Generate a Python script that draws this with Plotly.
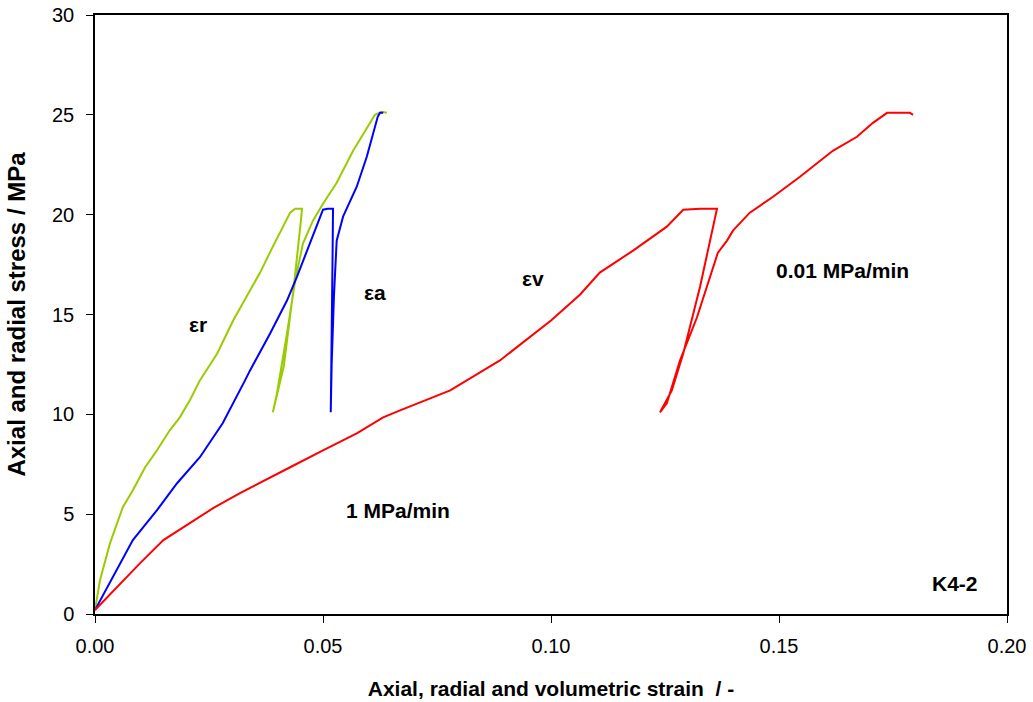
import plotly.graph_objects as go

# Radial strain (eps_r): loading, unloading at 20.3 MPa, reloading to 25 MPa
radial_strain = [0.0, 0.0011, 0.0033, 0.0061, 0.0083, 0.011, 0.0136, 0.0164, 0.0186, 0.0208,
                 0.023, 0.0268, 0.0303, 0.0333, 0.0362, 0.039, 0.0412, 0.0428, 0.0439, 0.0454,
                 0.0452, 0.0436, 0.0414, 0.0395, 0.039,
                 0.0399, 0.0421, 0.0439, 0.0456, 0.0478, 0.05, 0.053, 0.0566, 0.0588, 0.0614,
                 0.0629, 0.064]
radial_stress = [0.2, 1.7, 3.55, 5.35, 6.2, 7.35, 8.2, 9.2, 9.85, 10.7,
                 11.7, 13.05, 14.7, 15.9, 17.1, 18.4, 19.4, 20.1, 20.3, 20.3,
                 19.8, 16.4, 12.4, 10.6, 10.1,
                 11.05, 14.05, 16.7, 18.55, 19.7, 20.55, 21.6, 23.2, 24.05, 25.0,
                 25.15, 25.1]

# Axial strain (eps_a)
axial_strain = [0.0, 0.0048, 0.0083, 0.0136, 0.018, 0.023, 0.028, 0.0329, 0.034, 0.0384,
                0.0421, 0.0443, 0.0465, 0.0487, 0.05, 0.051, 0.0522,
                0.0521, 0.0519, 0.0517,
                0.0519, 0.0524, 0.053, 0.0544, 0.0574, 0.0596, 0.061, 0.062, 0.0625, 0.0632]
axial_stress = [0.2, 2.2, 3.7, 5.2, 6.55, 7.85, 9.55, 11.7, 12.2, 14.05,
                15.7, 16.9, 18.2, 19.4, 20.25, 20.3, 20.3,
                18.0, 13.0, 10.1,
                12.5, 15.9, 18.7, 19.9, 21.4, 22.9, 24.1, 24.9, 25.1, 25.1]

# Volumetric strain (eps_v)
vol_strain = [0.0, 0.0048, 0.0099, 0.015, 0.0208, 0.0259, 0.0318, 0.0384, 0.0428, 0.05,
              0.0574, 0.0632, 0.0669, 0.0779, 0.0888, 0.1, 0.1064, 0.1107, 0.118, 0.1254,
              0.129, 0.1327, 0.1364,
              0.1327, 0.129, 0.1265, 0.1239,
              0.1254, 0.1283, 0.132, 0.1342, 0.1366, 0.1386, 0.1399, 0.1436, 0.1487, 0.1546,
              0.1618, 0.1671, 0.1706, 0.1737, 0.1787, 0.1794]
vol_stress = [0.2, 1.35, 2.55, 3.7, 4.55, 5.3, 6.05, 6.85, 7.35, 8.2,
              9.05, 9.85, 10.2, 11.2, 12.7, 14.7, 16.0, 17.1, 18.2, 19.4,
              20.25, 20.3, 20.3,
              16.4, 13.05, 11.2, 10.1,
              10.55, 12.7, 14.85, 16.4, 18.1, 18.7, 19.2, 20.1, 20.9, 21.9,
              23.2, 23.9, 24.6, 25.1, 25.1, 25.0]

x_ticks = [0.0, 0.05, 0.10, 0.15, 0.20]
x_tick_text = ["0.00", "0.05", "0.10", "0.15", "0.20"]
y_ticks = [0, 5, 10, 15, 20, 25, 30]

FONT = "Liberation Sans, Arial, sans-serif"

fig = go.Figure()
fig.add_trace(go.Scatter(x=radial_strain, y=radial_stress, mode="lines",
                         line=dict(color="#99CC00", width=2), name="εr"))
fig.add_trace(go.Scatter(x=axial_strain, y=axial_stress, mode="lines",
                         line=dict(color="#0000FF", width=2), name="εa"))
fig.add_trace(go.Scatter(x=vol_strain, y=vol_stress, mode="lines",
                         line=dict(color="#FF0000", width=2), name="εv"))

labels = [
    (0.0226, 14.5, "<b>εr</b>"),
    (0.0614, 16.1, "<b>εa</b>"),
    (0.096, 16.8, "<b>εv</b>"),
    (0.164, 17.2, "<b>0.01 MPa/min</b>"),
    (0.0664, 5.2, "<b>1 MPa/min</b>"),
    (0.1886, 1.55, "<b>K4-2</b>"),
]
for x, y, t in labels:
    fig.add_annotation(x=x, y=y, text=t, showarrow=False,
                       font=dict(family=FONT, size=21, color="black"))

fig.update_layout(
    width=1033, height=702,
    margin=dict(l=95, r=26, t=15, b=88),
    paper_bgcolor="white", plot_bgcolor="white",
    showlegend=False,
    font=dict(family=FONT, size=20, color="black"),
)
fig.update_xaxes(
    range=[0, 0.20], tickvals=x_ticks, ticktext=x_tick_text,
    showgrid=False, zeroline=False, automargin=False,
    showline=True, linecolor="black", linewidth=1.5, mirror=True,
    ticks="outside", ticklen=7, tickcolor="black",
    tickfont=dict(family=FONT, size=20), ticklabelstandoff=6,
    title=dict(text="<b>Axial, radial and volumetric strain &nbsp;/ -</b>",
               font=dict(family=FONT, size=21), standoff=26),
)
fig.update_yaxes(
    range=[0, 30], tickvals=y_ticks,
    showgrid=False, zeroline=False, automargin=False,
    showline=True, linecolor="black", linewidth=1.5, mirror=True,
    ticks="outside", ticklen=7, tickcolor="black",
    tickfont=dict(family=FONT, size=20), ticklabelstandoff=8,
    title=dict(text="<b>Axial and radial stress / MPa</b>",
               font=dict(family=FONT, size=24), standoff=20),
)

fig.write_html("out.html")
